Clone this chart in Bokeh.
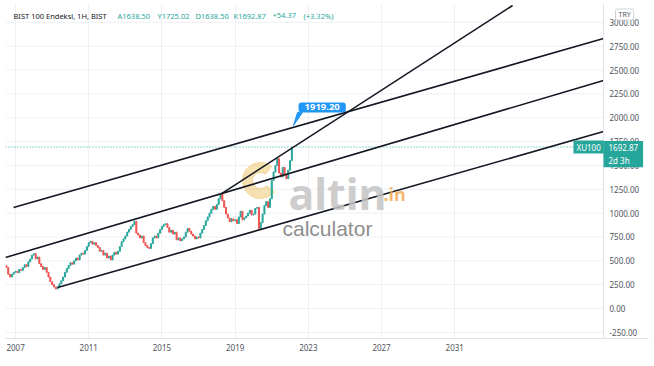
from bokeh.plotting import figure
from bokeh.models import Range1d, FixedTicker, NumeralTickFormatter, Label, Span
from bokeh.embed import file_html
from bokeh.resources import INLINE

# ---------------- data ----------------
start_year = 2006.5
step_year = 0.1
closes = [
    430, 360, 330, 360, 380,
    390, 375, 410, 400, 430, 460, 440, 490, 520, 560,
    575, 520, 540, 470, 440, 410, 430, 380, 330, 280,
    250, 225, 205, 230, 260, 290, 330, 380, 420, 450,
    480, 465, 500, 530, 510, 560, 580, 570, 610, 650,
    690, 705, 675, 690, 660, 640, 600, 610, 560, 580,
    530, 550, 510, 560, 590, 570, 600, 650, 700, 730,
    760, 800, 830, 860, 880, 915, 790, 770, 740, 760,
    690, 660, 640, 630, 680, 740, 760, 740, 790, 830,
    860, 880, 890, 850, 800, 820, 780, 800, 720, 740,
    710, 730, 750, 800, 840, 810, 780, 760, 730, 750,
    740, 790, 830, 870, 920, 960, 1000, 1040, 1070, 1040,
    1090, 1150, 1205, 1130, 1060, 990, 950, 910, 940, 920,
    930, 890, 960, 1020, 930, 950, 970, 1000, 1030, 980,
    990, 1050, 1060, 840, 900, 990, 1080, 1120, 1060, 1150,
    1340, 1430, 1500, 1570, 1420, 1380, 1480, 1400, 1360, 1450,
    1550, 1692.87,
]
first_open = 450

last_close = 1692.87
callout_year = 2022.19
callout_value = 1919.20

# trend lines (start year, start value, end year, end value)
line_x0 = [2006.89, 2006.45, 2009.30, 2018.26]
line_y0 = [1059, 535, 220, 1205]
line_x1 = [2039.13, 2039.13, 2039.13, 2034.16]
line_y1 = [2830, 2390, 1855, 3176]

x_ticks = [2007, 2011, 2015, 2019, 2023, 2027, 2031]
y_ticks = [-250, 0, 250, 500, 750, 1000, 1250, 1500, 1750, 2000, 2250, 2500, 2750, 3000]

header_name = "BIST 100 Endeksi, 1H, BIST"
header_values = ["A1638.50", "Y1725.02", "D1638.50", "K1692.87", "+54.37", "(+3.32%)"]
header_pos = [112, 152, 190, 228, 267, 298]

# ---------------- derived ----------------
years = [round(start_year + i * step_year, 2) for i in range(len(closes))]
opens = [first_open] + closes[:-1]
up_x = [x for x, o, c in zip(years, opens, closes) if c >= o]
up_top = [c for o, c in zip(opens, closes) if c >= o]
up_bot = [o for o, c in zip(opens, closes) if c >= o]
dn_x = [x for x, o, c in zip(years, opens, closes) if c < o]
dn_top = [o for o, c in zip(opens, closes) if c < o]
dn_bot = [c for o, c in zip(opens, closes) if c < o]

FW, FH = 643, 335           # frame size in px (frame spans 5..648 horizontally)
X0 = 2006.45
PX_PER_YEAR = 18.299
X1 = X0 + FW / PX_PER_YEAR
X_AXIS = 2039.13            # where the price scale starts (px 603)
Y0, Y1 = -314, 3197
dxp = (X1 - X0) / FW
dyp = (Y1 - Y0) / FH

FONT = "Noto Sans"
GREEN = "#26a69a"
RED = "#ef5350"
GRID = "#eef0f4"
SEP = "#e0e3eb"

p = figure(width=654, height=366, output_backend="svg", toolbar_location=None,
           x_range=Range1d(X0, X1), y_range=Range1d(Y0, Y1),
           y_axis_location=None,
           min_border_left=5, min_border_right=6, min_border_top=3, min_border_bottom=28,
           background_fill_color="white", border_fill_color="white")
p.outline_line_color = None

p.xaxis.ticker = FixedTicker(ticks=x_ticks)
p.xaxis.formatter = NumeralTickFormatter(format="0")
ax = p.xaxis[0]
ax.axis_line_color = SEP
ax.major_tick_line_color = None
ax.minor_tick_line_color = None
ax.major_tick_out = 0
ax.major_tick_in = 0
ax.major_label_text_font = FONT
ax.major_label_text_font_size = "8px"
ax.major_label_text_color = "#50535e"
ax.major_label_standoff = 5

p.xgrid.ticker = FixedTicker(ticks=x_ticks)
p.xgrid.grid_line_color = GRID
p.ygrid.grid_line_color = None

# horizontal grid lines stopping at the price scale
p.segment(x0=[X0] * len(y_ticks), y0=y_ticks, x1=[X_AXIS] * len(y_ticks), y1=y_ticks,
          line_color=GRID, line_width=1)
# price-scale separator
p.add_layout(Span(location=X_AXIS, dimension="height", line_color=SEP, line_width=1))

# watermark
lx = X0 + (260 - 5) * dxp
ly = Y0 + (338 - 180) * dyp
p.annular_wedge(x=[lx], y=[ly], inner_radius=8, outer_radius=18,
                inner_radius_units="screen", outer_radius_units="screen",
                start_angle=0.9, end_angle=5.6, color="#e8bd55", alpha=0.45)
p.add_layout(Label(x=283, y=145, x_units="screen", y_units="screen", text="altin",
                   text_font=FONT, text_font_size="43px", text_font_style="bold",
                   text_color="#c4c4c4", text_alpha=0.85, text_baseline="alphabetic"))
p.add_layout(Label(x=378, y=145, x_units="screen", y_units="screen", text=".in",
                   text_font=FONT, text_font_size="18px", text_font_style="bold",
                   text_color="#f0a64a", text_alpha=0.8, text_baseline="alphabetic"))
p.add_layout(Label(x=277, y=110, x_units="screen", y_units="screen", text="calculator",
                   text_font="Liberation Sans", text_font_size="21px",
                   text_color="#8e8e8e", text_baseline="alphabetic"))

# candles
p.vbar(x=up_x, width=0.055, top=up_top, bottom=up_bot, color=GREEN)
p.vbar(x=dn_x, width=0.055, top=dn_top, bottom=dn_bot, color=RED)

# last price dotted line
p.segment(x0=[X0], y0=[last_close], x1=[X_AXIS], y1=[last_close], line_color=GREEN,
          line_dash="1 2", line_width=1)

# trend lines
p.segment(x0=line_x0, y0=line_y0, x1=line_x1, y1=line_y1, line_color="#131722", line_width=1.6)

# price scale labels
for v in y_ticks:
    p.add_layout(Label(x=X_AXIS, y=v, x_offset=6, text=f"{v:.2f}", text_font=FONT,
                       text_font_size="8px", text_color="#50535e", text_baseline="middle"))

# callout
tail_x = [callout_year, callout_year + 4 * dxp, callout_year + 9 * dxp]
tail_y = [callout_value, callout_value + 13 * dyp, callout_value + 13 * dyp]
p.patch(x=tail_x, y=tail_y, color="#2196f3")
p.add_layout(Label(x=callout_year, y=callout_value, x_offset=5, y_offset=13,
                   text="1919.20", text_font=FONT, text_font_size="9.5px", text_font_style="bold",
                   text_color="white", text_align="left", text_baseline="bottom",
                   background_fill_color="#2196f3", padding=(6, 2), border_radius=3))

# header
p.add_layout(Label(x=8, y=323, x_units="screen", y_units="screen", text=header_name,
                   text_font=FONT, text_font_size="7.5px", text_color="#131722",
                   text_baseline="middle"))
for xs, t in zip(header_pos, header_values):
    p.add_layout(Label(x=xs, y=323, x_units="screen", y_units="screen", text=t,
                       text_font=FONT, text_font_size="7.5px", text_color=GREEN,
                       text_baseline="middle"))

# series tag and price tag
p.add_layout(Label(x=568, y=last_close, x_units="screen", text="XU100",
                   text_font=FONT, text_font_size="8px", text_color="white",
                   text_baseline="middle", background_fill_color=GREEN, padding=(3, 1)))
p.add_layout(Label(x=X_AXIS, y=last_close, y_offset=6, text="1692.87\n2d 3h",
                   text_font=FONT, text_font_size="8px", text_color="white",
                   text_baseline="top", background_fill_color=GREEN, padding=(5, 1)))
p.add_layout(Label(x=610, y=324, x_units="screen", y_units="screen", text="TRY",
                   text_font=FONT, text_font_size="7px", text_color="#50535e",
                   text_baseline="middle", background_fill_color="white",
                   border_line_color="#d1d4dc", padding=(3, 1), border_radius=2))

open("out.html", "w").write(file_html(p, INLINE))
